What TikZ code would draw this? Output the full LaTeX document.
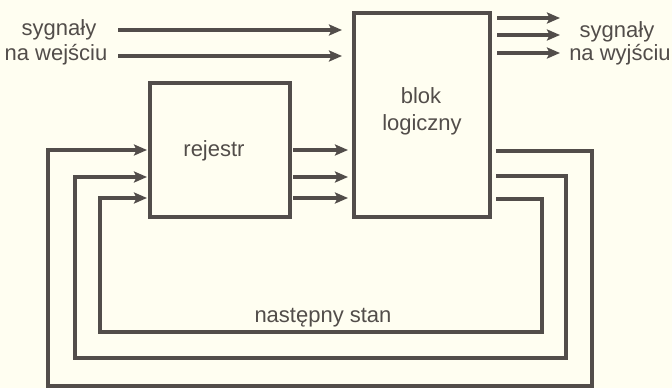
\documentclass[tikz,border=0pt]{standalone}
\usepackage{fontspec}
\setmainfont{Liberation Sans}
\usetikzlibrary{arrows.meta}
\definecolor{paper}{HTML}{FFFEF1}
\definecolor{ink}{HTML}{524D4A}
\begin{document}
\begin{tikzpicture}[x=1pt,y=-1pt,
  line width=3.2pt,
  wire/.style={draw=ink, line width=3.2pt},
  arr/.style={wire, -{Stealth[length=13pt,width=11pt,inset=2.5pt]}},
  blockbox/.style={draw=ink, line width=3.2pt, inner sep=0pt, outer sep=0pt},
  lbl/.style={text=ink, font=\fontsize{22}{26}\selectfont, inner sep=0pt, anchor=base}]

% paper
\fill[paper] (0,0) rectangle (672,388);
\useasboundingbox (0,0) rectangle (672,388);

% blocks
\node[blockbox, minimum width=140pt, minimum height=134pt] (reg) at (220,150) {};
\node[blockbox, minimum width=136pt, minimum height=204pt] (lb) at (422,115) {};

% labels
\node[lbl] (inA) at (59,35) {sygnały};
\node[lbl] (inB) at (56,60) {na wejściu};
\node[lbl] (outA) at (617,37) {sygnały};
\node[lbl] (outB) at (620,60) {na wyjściu};
\node[lbl] (lbA) at (421,103) {blok};
\node[lbl] (lbB) at (422,130) {logiczny};
\node[lbl] (regT) at (214,156) {rejestr};
\node[lbl] (nxt) at (323,322) {następny stan};

% input signals
\coordinate (i1) at (118,30);
\coordinate (i2) at (118,56);
\draw[arr, shorten >=12pt] (i1) -- (i1 -| lb.west);
\draw[arr, shorten >=12pt] (i2) -- (i2 -| lb.west);

% output signals
\coordinate (o1) at (560,18);
\coordinate (o2) at (560,35);
\coordinate (o3) at (560,53);
\draw[arr, shorten <=7pt] (o1 -| lb.east) -- (o1);
\draw[arr, shorten <=7pt] (o2 -| lb.east) -- (o2);
\draw[arr, shorten <=7pt] (o3 -| lb.east) -- (o3);

% register to logic block
\foreach \yy in {150,177,198}
  \draw[arr, shorten <=3pt, shorten >=6pt] (reg.east |- 0,\yy) -- (lb.west |- 0,\yy);

% next-state feedback loops
\draw[arr, shorten <=6pt, shorten >=3pt]
  (lb.east |- 0,151) -- (592,151) -- (592,386) -- (48,386) -- (48,150) -- (reg.west |- 0,150);
\draw[arr, shorten <=6pt, shorten >=3pt]
  (lb.east |- 0,176) -- (566,176) -- (566,358) -- (75,358) -- (75,177) -- (reg.west |- 0,177);
\draw[arr, shorten <=6pt, shorten >=3pt]
  (lb.east |- 0,199) -- (542,199) -- (542,332) -- (100,332) -- (100,198) -- (reg.west |- 0,198);
\end{tikzpicture}
\end{document}
